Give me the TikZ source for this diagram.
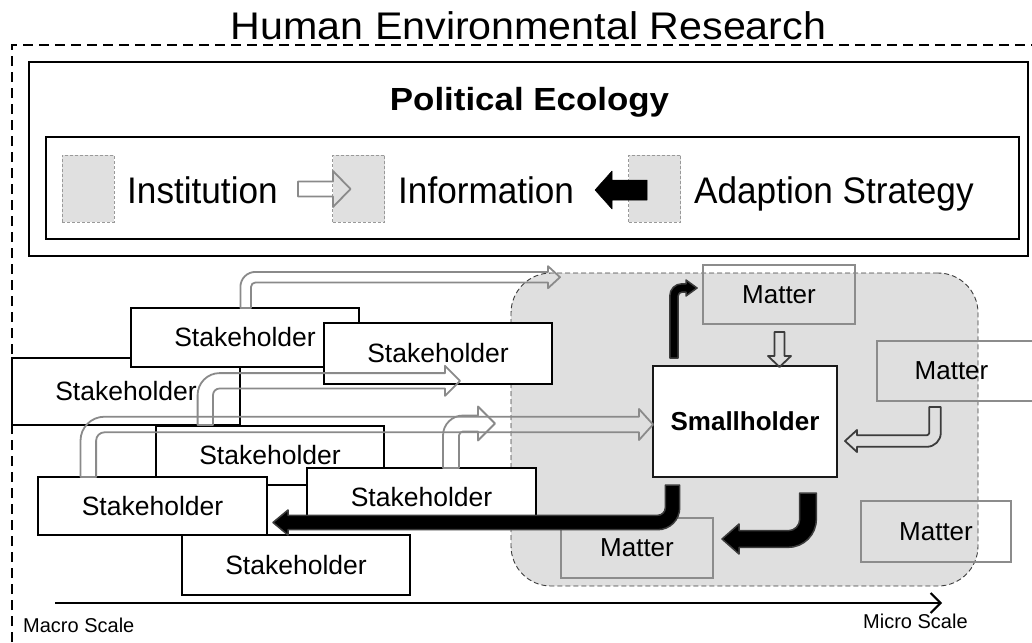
\documentclass[tikz,border=0pt]{standalone}
\usepackage{fontspec}
\setmainfont{Liberation Sans}
\usepackage{graphicx}
\usetikzlibrary{arrows.meta}
\definecolor{regiongray}{HTML}{DFDFDF}
\definecolor{legfill}{HTML}{E0E0E0}
\definecolor{legline}{HTML}{999999}
\definecolor{arrgray}{HTML}{8A8A8A}
\definecolor{darkline}{HTML}{3C3C3C}
\definecolor{mattergray}{HTML}{8C8C8C}
% L-shaped arrow outline: #1 style, #2 x0, #3 y start, #4 y of horizontal, #5 tip x, #6 half shaft, #7 half head, #8 head length, #9 outer radius
\newcommand\Larrow[9]{%
  \pgfmathsetmacro\LAsx{sign(#5-#2)}%
  \pgfmathsetmacro\LAsy{sign(#4-#3)}%
  \pgfmathsetmacro\LAxo{#2-\LAsx*#6}%
  \pgfmathsetmacro\LAyo{#4+\LAsy*#6}%
  \pgfmathsetmacro\LAxi{#2+\LAsx*#6}%
  \pgfmathsetmacro\LAyi{#4-\LAsy*#6}%
  \pgfmathsetmacro\LAri{max(#9-2*#6,2)}%
  \pgfmathsetmacro\LAxb{#5-\LAsx*#8}%
  \pgfmathsetmacro\LAya{\LAyo-\LAsy*#9}%
  \pgfmathsetmacro\LAyc{\LAyo-\LAsy*#9*0.4477}%
  \pgfmathsetmacro\LAxc{\LAxo+\LAsx*#9*0.4477}%
  \pgfmathsetmacro\LAxl{\LAxo+\LAsx*#9}%
  \pgfmathsetmacro\LAhp{#4+\LAsy*#7}%
  \pgfmathsetmacro\LAhm{#4-\LAsy*#7}%
  \pgfmathsetmacro\LAxil{\LAxi+\LAsx*\LAri}%
  \pgfmathsetmacro\LAxic{\LAxi+\LAsx*\LAri*0.4477}%
  \pgfmathsetmacro\LAyic{\LAyi-\LAsy*\LAri*0.4477}%
  \pgfmathsetmacro\LAyil{\LAyi-\LAsy*\LAri}%
  \draw[#1] (\LAxo,#3) -- (\LAxo,\LAya) .. controls (\LAxo,\LAyc) and (\LAxc,\LAyo) .. (\LAxl,\LAyo)
    -- (\LAxb,\LAyo) -- (\LAxb,\LAhp) -- (#5,#4) -- (\LAxb,\LAhm) -- (\LAxb,\LAyi)
    -- (\LAxil,\LAyi) .. controls (\LAxic,\LAyi) and (\LAxi,\LAyic) .. (\LAxi,\LAyil) -- (\LAxi,#3) -- cycle;%
}
\begin{document}
\begin{tikzpicture}[x=1pt,y=-1pt,
  frameline/.style={dash pattern=on 10pt off 6pt, line width=2},
  box/.style={draw=black, line width=2},
  legbox/.style={draw=legline, fill=legfill, line width=0.8, dash pattern=on 3pt off 2pt, inner sep=0, minimum width=52, minimum height=67},
  stakebox/.style={draw=black, line width=2, fill=white, inner sep=0, font=\fontsize{26.5}{30}\selectfont},
  matterbox/.style={draw=mattergray, line width=2, inner sep=0, font=\fontsize{26}{30}\selectfont},
  hollow/.style={draw=arrgray, line width=1.8, line join=round},
  hollowdark/.style={draw=darkline, line width=1.8, line join=round},
  solidarrow/.style={fill=black, draw=darkline, line width=1.5, line join=round},
  txt/.style={inner sep=0}
]
\useasboundingbox (0,0) rectangle (1032,642);

% outer dashed frame
\coordinate (fA) at (12,642);
\coordinate (fB) at (12,45);
\coordinate (fC) at (1032,45);
\draw[frameline] (fA) -- (fB) -- (fC);
\node[txt, anchor=base] (title) at (528.5,39.5) {\scalebox{1.07}[1]{\fontsize{38.5}{44}\selectfont Human Environmental Research}};

% Political ecology
\draw[box] (29,62) rectangle (1028,256);
\node[txt, anchor=base] (pe) at (529.5,110) {\scalebox{1.09}[1]{\bfseries\fontsize{32}{38}\selectfont Political Ecology}};
\draw[box] (46,137) rectangle (1019,239);

% legend
\node[legbox] (lb1) at (88,188.5) {};
\node[legbox] (lb2) at (358.5,188.5) {};
\node[legbox] (lb3) at (654.5,188.5) {};
\node[txt, anchor=base west] (lt1) at (127,203.3) {\scalebox{0.95}[1]{\fontsize{37}{42}\selectfont Institution}};
\node[txt, anchor=base west] (lt2) at (398,203.3) {\scalebox{0.95}[1]{\fontsize{37}{42}\selectfont Information}};
\node[txt, anchor=base west] (lt3) at (694,203.3) {\scalebox{0.95}[1]{\fontsize{37}{42}\selectfont Adaption Strategy}};
\draw[hollow] (298,181.5) -- (333,181.5) -- (333,171) -- (350.5,189) -- (333,207) -- (333,196.5) -- (298,196.5) -- cycle;
\draw[fill=black, draw=black, line width=0.5, line join=round] (647,180) -- (612,180) -- (612,171) -- (595,190) -- (612,209) -- (612,200) -- (647,200) -- cycle;

% smallholder region
\node[draw=darkline, fill=regiongray, line width=0.9, dash pattern=on 5pt off 3pt, rounded corners=40, inner sep=0, minimum width=467, minimum height=313] (region) at (744.5,429.5) {};

% matter boxes
\node[matterbox, minimum width=152, minimum height=59] (m1) at (779,294.5) {Matter};
\node[matterbox, minimum width=163, minimum height=60] (m2) at (958.5,371) {Matter\hspace*{14pt}};
\node[matterbox, minimum width=150, minimum height=61] (m3) at (936,531.5) {Matter};
\node[matterbox, minimum width=152, minimum height=60] (m4) at (637,548) {Matter};

% smallholder
\node[draw=black!90, line width=2, fill=white, inner sep=0, minimum width=184, minimum height=111, font=\bfseries\fontsize{26}{30}\selectfont] (sh) at (745,421.5) {Smallholder};

% stakeholders
\node[stakebox, minimum width=228, minimum height=67] (s3) at (126,391.5) {Stakeholder};
\node[stakebox, minimum width=228, minimum height=59] (s1) at (245,337.5) {Stakeholder};
\node[stakebox, minimum width=228, minimum height=61] (s2) at (438,353.5) {Stakeholder};
\node[stakebox, minimum width=228, minimum height=59] (s4) at (270,455.5) {Stakeholder};
\node[stakebox, minimum width=229, minimum height=58] (s5) at (152.5,506) {Stakeholder};
\node[stakebox, minimum width=229, minimum height=59] (s6) at (421.5,497.5) {Stakeholder};
\node[stakebox, minimum width=228, minimum height=60] (s7) at (296,565) {Stakeholder};

% information arrows (hollow, gray)
\Larrow{hollow}{245.7}{308}{277.2}{560}{5.3}{11}{12}{15}
\Larrow{hollow}{205.3}{425}{380.8}{460}{7.7}{15}{15}{22}
\Larrow{hollow}{88.3}{477}{424.5}{653}{7.8}{15.5}{14}{24}
\Larrow{hollow}{451}{468}{423.5}{495}{8}{17}{17}{20}

% matter to smallholder
\draw[hollowdark] (774.5,332) -- (784.5,332) -- (784.5,356) -- (791,356) -- (779.5,367) -- (768,356) -- (774.5,356) -- cycle;
\Larrow{hollowdark}{935}{407}{441}{845}{5.8}{11}{12}{14}

% adaption strategy arrows (black)
\Larrow{solidarrow}{672.5}{485}{522.5}{273}{7.2}{12.5}{15}{22}
\Larrow{solidarrow}{808}{493}{539}{722}{8.3}{15}{17}{28}
\Larrow{solidarrow}{674}{358}{288}{697}{4.2}{8}{11}{12}

% scale axis
\coordinate (axL) at (55,603);
\coordinate (axR) at (942,603);
\draw[line width=2, -{Straight Barb[length=10pt,width=20pt,line width=2pt]}] (axL) -- (axR);
\node[txt, anchor=base west, font=\fontsize{20}{24}\selectfont] (macro) at (23,632) {Macro Scale};
\node[txt, anchor=base west, font=\fontsize{20}{24}\selectfont] (micro) at (863,628.5) {Micro Scale};
\end{tikzpicture}
\end{document}
